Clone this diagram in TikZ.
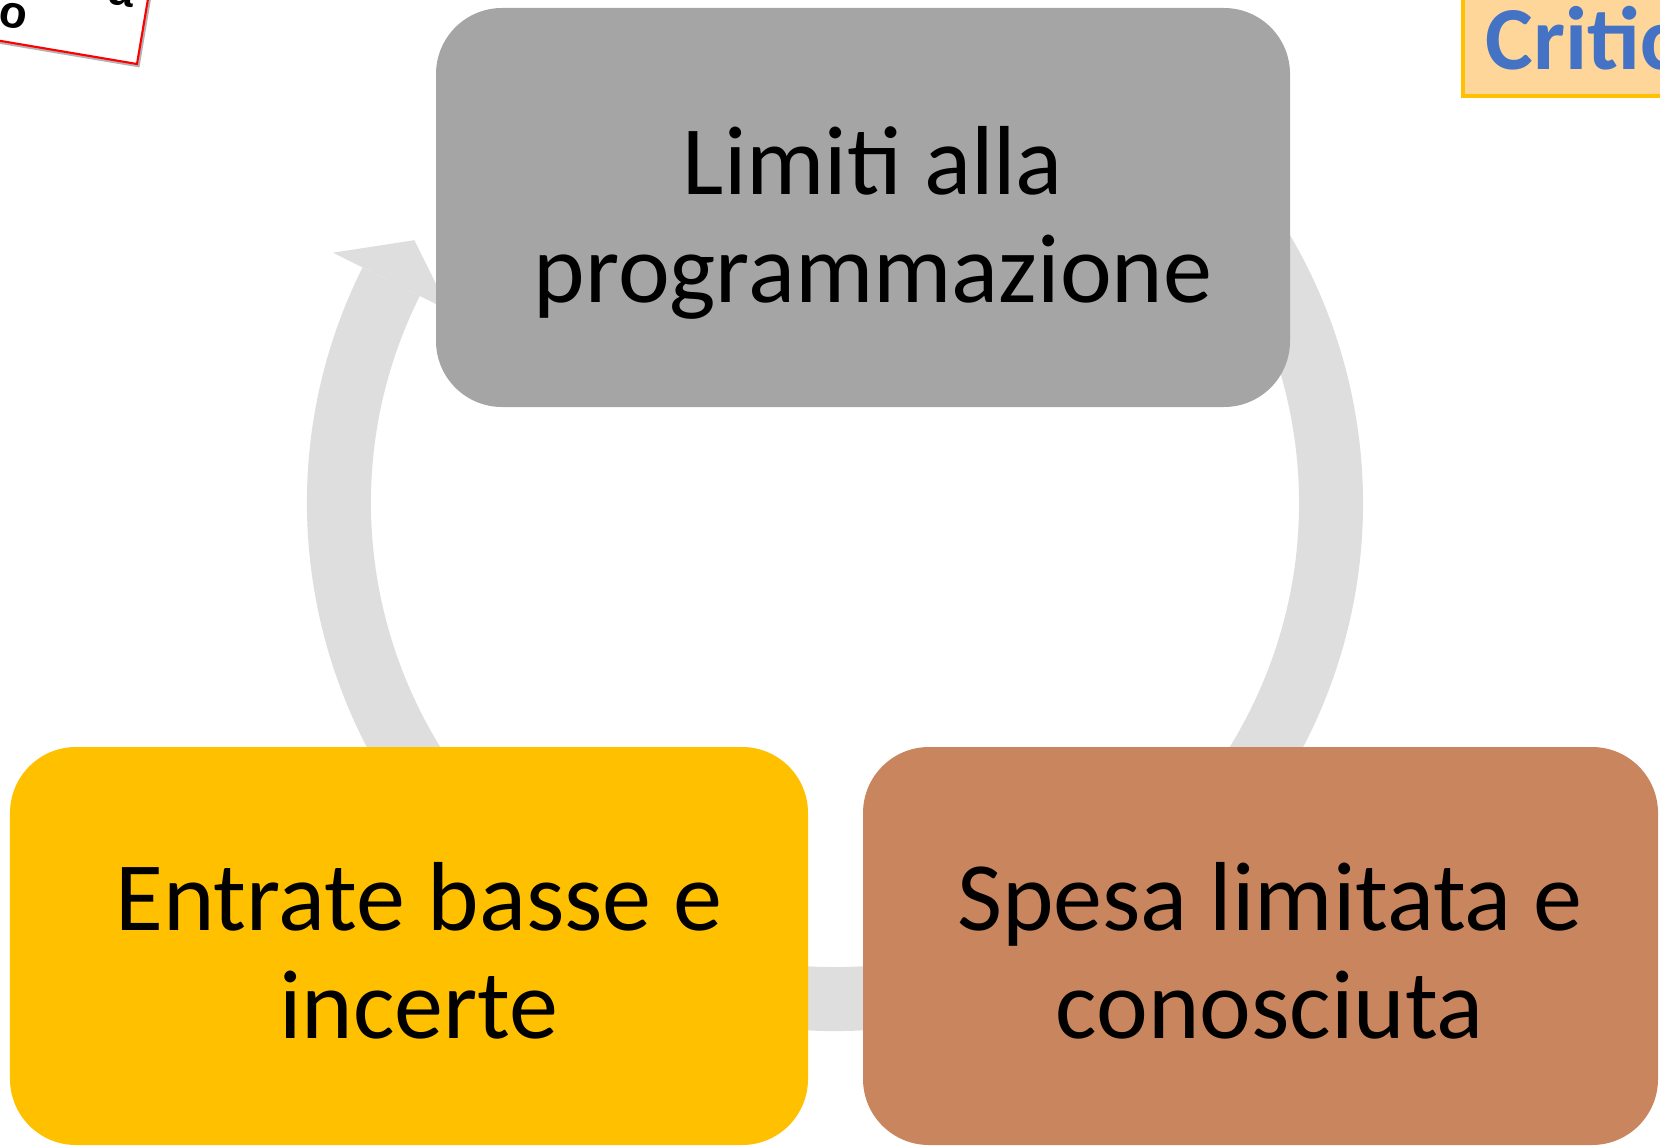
\documentclass[tikz,border=0pt]{standalone}
\usepackage{fontspec}
\setmainfont{Carlito}
\newfontfamily\notefont{Liberation Sans}
\usetikzlibrary{calc}
\definecolor{BOX-GREY}{RGB}{165,165,165}
\definecolor{BOX-GOLD}{RGB}{255,192,0}
\definecolor{BOX-BROWN}{RGB}{201,134,94}
\definecolor{RING-GREY}{RGB}{222,222,222}
\definecolor{TAG-FILL}{RGB}{254,214,153}
\definecolor{TAG-BLUE}{RGB}{68,114,196}

\begin{document}
\begin{tikzpicture}[
  cyclebox/.style={rectangle, rounded corners=0.66cm, inner sep=0pt, minimum height=3.98cm},
  cycletext/.style={align=center, inner sep=0pt, font=\fontsize{27.9}{30.7}\selectfont}
]
  \useasboundingbox (0,0) rectangle (16.6,11.45);

  % Cycle ring with arrow head (left side)
  \coordinate (c) at (8.35,6.42);
  \draw[RING-GREY, line width=0.64cm] ($(c)+(153.5:4.96)$) arc[start angle=153.5, end angle=420, radius=4.96];
  \fill[RING-GREY] ($(c)+(153.5:5.61)$) -- ($(c)+(148:4.96)$) -- ($(c)+(153.5:4.31)$) -- cycle;

  % Top box
  \node[cyclebox, fill=BOX-GREY, minimum width=8.54cm, minimum height=3.99cm] (limiti) at (8.63,9.375) {};
  \node[cycletext] (limititxt) at ($(limiti.center)+(0.10,-0.15)$) {Limiti alla\\programmazione};

  % Bottom left box
  \node[cyclebox, fill=BOX-GOLD, minimum width=7.98cm] (entrate) at (4.09,1.99) {};
  \node[cycletext] (entratetxt) at ($(entrate.center)+(0.10,-0.05)$) {Entrate basse e\\incerte};

  % Bottom right box
  \node[cyclebox, fill=BOX-BROWN, minimum width=7.95cm] (spesa) at (12.605,1.99) {};
  \node[cycletext] (spesatxt) at ($(spesa.center)+(0.095,-0.05)$) {Spesa limitata e\\conosciuta};

  % Title tag (top right, cut by the page)
  \filldraw[fill=TAG-FILL, draw=BOX-GOLD, line width=1pt] (14.63,10.49) rectangle (17.2,11.8);
  \node[anchor=base west, inner sep=0pt, text=TAG-BLUE, font=\fontsize{25.6}{30}\selectfont\bfseries] (critic) at (14.85,10.75) {Critic};

  % Tilted note (top left, cut by the page)
  \begin{scope}[shift={(1.37,10.81)}, rotate=-9.6]
    \fill[black!30] (-3,-0.03) rectangle (0.03,2);
    \filldraw[draw=red, fill=white, line width=0.6pt] (-3,0) rectangle (0,2);
    \node[rotate=-9.6, font=\notefont\bfseries\fontsize{13}{15}\selectfont] (noteo) at (-1.30,0.27) {o};
    \node[rotate=-9.6, font=\notefont\bfseries\fontsize{13}{15}\selectfont] (notea) at (-0.27,0.67) {a};
  \end{scope}
\end{tikzpicture}
\end{document}
